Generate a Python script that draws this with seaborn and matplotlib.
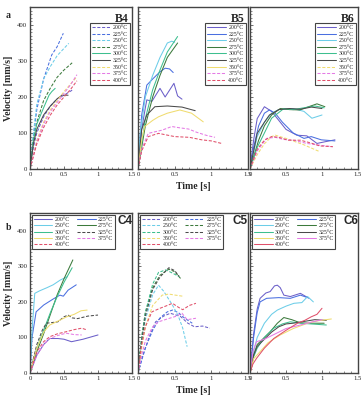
import matplotlib
matplotlib.use("Agg")
import matplotlib.pyplot as plt
import seaborn as sns
import numpy as np
from matplotlib.ticker import MultipleLocator
from matplotlib.lines import Line2D

sns.set_style("ticks")
plt.rcParams['font.family'] = ['Liberation Serif', 'DejaVu Serif']

TEMPS = ["200°C", "225°C", "250°C", "275°C", "300°C", "325°C", "350°C", "375°C", "400°C"]
COLORS = ["#6b5fc9", "#4a6fe0", "#6ccde8", "#3c7a3c", "#3dbf8f", "#4a4a4a", "#f0dc70", "#e57ae5", "#e0506a"]

# each panel: temperature -> (time [s], velocity [mm/s])
B4 = {
    "200°C": ([0, 0.05, 0.1, 0.2, 0.3, 0.4, 0.5, 0.62], [0, 60, 100, 145, 175, 195, 205, 219]),
    "225°C": ([0, 0.05, 0.1, 0.2, 0.32, 0.4, 0.49], [0, 90, 165, 250, 317, 340, 377]),
    "250°C": ([0, 0.05, 0.1, 0.2, 0.3, 0.4, 0.5, 0.57], [0, 100, 180, 250, 285, 315, 335, 349]),
    "275°C": ([0, 0.05, 0.1, 0.2, 0.3, 0.4, 0.5, 0.62], [0, 80, 130, 190, 225, 255, 275, 295]),
    "300°C": ([0, 0.05, 0.1, 0.2, 0.28, 0.32, 0.37], [0, 80, 125, 170, 205, 215, 224]),
    "325°C": ([0, 0.05, 0.1, 0.2, 0.3, 0.4, 0.47, 0.56], [0, 70, 110, 150, 175, 195, 205, 205]),
    "350°C": ([0, 0.1, 0.2, 0.3, 0.4, 0.5, 0.6, 0.69], [0, 80, 130, 165, 190, 215, 237, 256]),
    "375°C": ([0, 0.1, 0.2, 0.3, 0.4, 0.5, 0.6, 0.69], [0, 75, 125, 160, 185, 210, 235, 262]),
    "400°C": ([0, 0.1, 0.2, 0.3, 0.4, 0.5, 0.6, 0.69], [0, 70, 115, 150, 178, 200, 222, 245]),
}
B5 = {
    "200°C": ([0, 0.05, 0.1, 0.12, 0.19, 0.3, 0.37, 0.49, 0.54, 0.6], [0, 110, 170, 192, 188, 224, 200, 238, 203, 194]),
    "225°C": ([0, 0.05, 0.12, 0.2, 0.3, 0.37, 0.43, 0.48], [0, 150, 233, 250, 270, 280, 278, 268]),
    "250°C": ([0, 0.03, 0.1, 0.2, 0.3, 0.4, 0.46, 0.5], [0, 100, 200, 260, 310, 350, 355, 352]),
    "275°C": ([0, 0.05, 0.1, 0.2, 0.3, 0.4, 0.54], [0, 60, 120, 200, 260, 310, 350]),
    "300°C": ([0, 0.05, 0.1, 0.2, 0.3, 0.4, 0.54], [0, 70, 140, 220, 275, 325, 368]),
    "325°C": ([0, 0.05, 0.12, 0.23, 0.4, 0.6, 0.78], [0, 110, 150, 173, 175, 172, 162]),
    "350°C": ([0, 0.05, 0.09, 0.2, 0.28, 0.4, 0.57, 0.73, 0.89], [0, 80, 118, 135, 145, 155, 164, 155, 131]),
    "375°C": ([0, 0.05, 0.14, 0.33, 0.46, 0.55, 0.69, 0.8, 0.94, 1.05], [0, 55, 99, 108, 118, 115, 111, 102, 93, 88]),
    "400°C": ([0, 0.05, 0.14, 0.28, 0.5, 0.7, 0.87, 1.0, 1.14], [0, 50, 90, 99, 90, 88, 81, 78, 71]),
}
B6 = {
    "200°C": ([0, 0.05, 0.1, 0.2, 0.3, 0.4, 0.5, 0.65, 0.79, 0.93, 1.05, 1.18], [0, 80, 140, 173, 160, 135, 110, 94, 92, 71, 76, 81]),
    "225°C": ([0, 0.05, 0.12, 0.2, 0.27, 0.35, 0.45, 0.6, 0.75, 0.85, 0.99, 1.18], [0, 60, 120, 155, 164, 155, 130, 100, 85, 90, 81, 78]),
    "250°C": ([0, 0.1, 0.2, 0.3, 0.4, 0.6, 0.75, 0.86, 1.0], [0, 90, 130, 155, 165, 168, 160, 141, 150]),
    "275°C": ([0, 0.12, 0.2, 0.3, 0.42, 0.55, 0.69, 0.8, 0.93, 1.04], [0, 80, 120, 150, 168, 165, 164, 172, 181, 173]),
    "300°C": ([0, 0.1, 0.2, 0.3, 0.47, 0.6, 0.75, 0.9, 1.03], [0, 60, 100, 141, 168, 165, 170, 175, 170]),
    "325°C": ([0, 0.1, 0.2, 0.27, 0.4, 0.55, 0.7, 0.85, 1.0], [0, 99, 130, 150, 165, 168, 166, 172, 168]),
    "350°C": ([0, 0.1, 0.2, 0.3, 0.35, 0.5, 0.75, 0.97], [0, 40, 70, 90, 94, 85, 67, 48]),
    "375°C": ([0, 0.1, 0.23, 0.35, 0.47, 0.6, 0.79, 0.97, 1.15], [0, 50, 85, 88, 82, 80, 71, 66, 62]),
    "400°C": ([0, 0.1, 0.2, 0.3, 0.4, 0.53, 0.7, 0.85, 0.97, 1.15], [0, 55, 80, 90, 88, 80, 80, 72, 64, 62]),
}
C4 = {
    "200°C": ([0, 0.1, 0.2, 0.29, 0.41, 0.5, 0.61, 0.78, 1.0], [0, 50, 80, 97, 97, 95, 88, 95, 107]),
    "225°C": ([0, 0.03, 0.09, 0.2, 0.34, 0.44, 0.49, 0.56, 0.68], [0, 100, 172, 191, 208, 219, 216, 233, 248]),
    "250°C": ([0, 0.03, 0.07, 0.14, 0.25, 0.34, 0.45, 0.55], [0, 120, 224, 231, 240, 248, 262, 271]),
    "275°C": ([0, 0.1, 0.2, 0.3, 0.4, 0.5, 0.63], [0, 60, 110, 165, 220, 265, 318]),
    "300°C": ([0, 0.1, 0.2, 0.3, 0.4, 0.5, 0.62], [0, 70, 120, 170, 215, 255, 296]),
    "325°C": ([0, 0.1, 0.18, 0.24, 0.33, 0.41, 0.5, 0.56, 0.62, 0.7, 0.85, 1.0], [0, 80, 120, 140, 142, 144, 158, 163, 155, 153, 160, 163]),
    "350°C": ([0, 0.1, 0.2, 0.29, 0.4, 0.54, 0.65, 0.75, 0.84], [0, 70, 115, 135, 145, 158, 165, 175, 177]),
    "375°C": ([0, 0.1, 0.2, 0.29, 0.4, 0.53, 0.65, 0.76], [0, 50, 80, 97, 105, 112, 108, 107]),
    "400°C": ([0, 0.1, 0.2, 0.29, 0.4, 0.53, 0.65, 0.76, 0.84], [0, 60, 88, 102, 110, 116, 122, 126, 121]),
}
C5 = {
    "200°C": ([0, 0.05, 0.1, 0.15, 0.24, 0.35, 0.44, 0.52, 0.58, 0.68, 0.77, 0.88, 0.98], [0, 40, 70, 100, 144, 160, 168, 163, 159, 140, 130, 132, 126]),
    "225°C": ([0, 0.1, 0.2, 0.3, 0.4, 0.47, 0.55, 0.63, 0.74], [0, 70, 120, 155, 172, 177, 170, 155, 140]),
    "250°C": ([0, 0.05, 0.1, 0.2, 0.28, 0.35, 0.47, 0.55, 0.61, 0.67], [0, 80, 150, 220, 247, 230, 191, 160, 126, 74]),
    "275°C": ([0, 0.05, 0.1, 0.2, 0.3, 0.42, 0.5, 0.58], [0, 100, 170, 240, 275, 292, 285, 266]),
    "300°C": ([0, 0.05, 0.1, 0.2, 0.28, 0.38, 0.48, 0.56], [0, 100, 170, 250, 283, 290, 280, 271]),
    "325°C": ([0, 0.05, 0.1, 0.2, 0.3, 0.42, 0.5, 0.56], [0, 90, 160, 235, 270, 296, 288, 272]),
    "350°C": ([0, 0.05, 0.1, 0.2, 0.33, 0.42, 0.51, 0.61], [0, 70, 130, 190, 219, 222, 219, 216]),
    "375°C": ([0, 0.05, 0.1, 0.2, 0.28, 0.4, 0.51, 0.6, 0.67, 0.79], [0, 50, 90, 130, 144, 152, 159, 168, 150, 154]),
    "400°C": ([0, 0.05, 0.1, 0.19, 0.3, 0.4, 0.47, 0.55, 0.61, 0.7, 0.79], [0, 80, 130, 172, 182, 190, 196, 185, 178, 190, 196]),
}
C6 = {
    "200°C": ([0, 0.05, 0.1, 0.14, 0.22, 0.28, 0.34, 0.38, 0.42, 0.47, 0.56, 0.7, 0.82], [0, 110, 180, 210, 225, 229, 245, 247, 240, 219, 215, 224, 210]),
    "225°C": ([0, 0.05, 0.1, 0.14, 0.23, 0.4, 0.56, 0.7, 0.8], [0, 100, 170, 200, 210, 212, 210, 219, 212]),
    "250°C": ([0, 0.05, 0.1, 0.2, 0.3, 0.38, 0.5, 0.61, 0.72, 0.8, 0.88], [0, 60, 100, 140, 165, 177, 188, 196, 198, 215, 200]),
    "275°C": ([0, 0.05, 0.1, 0.2, 0.28, 0.38, 0.47, 0.58, 0.7, 0.85, 1.03], [0, 50, 80, 100, 116, 140, 156, 150, 141, 140, 140]),
    "300°C": ([0, 0.05, 0.1, 0.2, 0.33, 0.45, 0.56, 0.7, 0.85, 1.06], [0, 45, 70, 100, 126, 138, 144, 140, 138, 135]),
    "325°C": ([0, 0.05, 0.1, 0.2, 0.3, 0.4, 0.5, 0.6, 0.75, 0.9, 1.06], [0, 50, 75, 95, 115, 130, 138, 140, 145, 150, 148]),
    "350°C": ([0, 0.05, 0.14, 0.25, 0.42, 0.6, 0.8, 0.95, 1.13], [0, 40, 60, 85, 107, 125, 140, 147, 152]),
    "375°C": ([0, 0.04, 0.09, 0.2, 0.33, 0.5, 0.7, 0.85, 1.0], [0, 60, 88, 95, 108, 125, 135, 143, 150]),
    "400°C": ([0, 0.04, 0.09, 0.2, 0.33, 0.5, 0.66, 0.76, 0.85, 0.93, 1.0], [0, 25, 41, 70, 97, 120, 140, 148, 158, 165, 182]),
}

# which temperatures are drawn dashed in each panel
DASHED = {
    "B4": ["200°C", "225°C", "250°C", "275°C", "350°C", "375°C", "400°C"],
    "B5": ["375°C", "400°C"],
    "B6": ["350°C", "375°C", "400°C"],
    "C4": ["325°C", "375°C", "400°C"],
    "C5": TEMPS,
    "C6": [],
}

W, H = 362, 399
fig = plt.figure(figsize=(W / 100, H / 100), dpi=100)

def pos(x0, x1, y0, y1):
    return [x0 / W, 1 - y1 / H, (x1 - x0) / W, (y1 - y0) / H]

cols = [(30, 132), (138, 248), (250, 358)]
rows = [(7, 169), (213, 373)]
panels = [["B4", "B5", "B6"], ["C4", "C5", "C6"]]
data = {"B4": B4, "B5": B5, "B6": B6, "C4": C4, "C5": C5, "C6": C6}

DASH = (3.0, 1.6)
for r, (y0, y1) in enumerate(rows):
    for c, (x0, x1) in enumerate(cols):
        name = panels[r][c]
        ax = fig.add_axes(pos(x0, x1, y0, y1))
        handles = []
        for temp, col in zip(TEMPS, COLORS):
            t, v = data[name][temp]
            dashed = temp in DASHED[name]
            sns.lineplot(x=t, y=v, ax=ax, color=col, lw=0.75, sort=False,
                         estimator=None, linestyle="--" if dashed else "-",
                         dashes=DASH if dashed else None)
            ln = ax.lines[-1]
            if dashed:
                ln.set_dashes(DASH)
            handles.append(Line2D([], [], color=col, lw=0.75,
                                  linestyle=(0, DASH) if dashed else "-"))
        ax.set_xlim(0, 1.5)
        ax.set_ylim(0, 450)
        ax.set_xticks([0, 0.5, 1, 1.5])
        ax.set_xticklabels(["0", "0.5", "1", "1.5"])
        ax.set_yticks([0, 100, 200, 300, 400])
        ax.xaxis.set_minor_locator(MultipleLocator(0.1))
        ax.yaxis.set_minor_locator(MultipleLocator(10))
        ax.tick_params(which="both", direction="in", labelsize=4.8, pad=2,
                       colors="#333333", labelcolor="#222222")
        ax.tick_params(which="major", length=2.5, width=0.5)
        ax.tick_params(which="minor", length=1.5, width=0.4)
        if c > 0:
            ax.set_yticklabels([])
        for s in ax.spines.values():
            s.set_color("#444444")
            s.set_linewidth(1.0)
        ax.set_xlabel("")
        ax.set_ylabel("")
        if r == 0:
            ax.text(0.97, 0.965, name, transform=ax.transAxes, ha="right", va="top",
                    fontsize=8.5, fontweight="bold")
            leg = ax.legend(handles, TEMPS, loc="upper right", bbox_to_anchor=(0.98, 0.9),
                            fontsize=4.2, frameon=True, fancybox=False, handlelength=3.2,
                            handletextpad=0.4, labelspacing=0.25, borderpad=0.35,
                            borderaxespad=0)
        else:
            ax.text(1.0, 0.985, name, transform=ax.transAxes, ha="right", va="top",
                    fontsize=8.5, fontweight="bold", family=["Liberation Sans", "DejaVu Sans"])
            order = [0, 2, 4, 6, 8, 1, 3, 5, 7]
            leg = ax.legend([handles[i] for i in order], [TEMPS[i] for i in order],
                            loc="upper left", bbox_to_anchor=(0.02, 0.985), ncol=2,
                            fontsize=4.2, frameon=True, fancybox=False, handlelength=3.2,
                            handletextpad=0.4, labelspacing=0.2, borderpad=0.3,
                            columnspacing=1.2, borderaxespad=0)
        fr = leg.get_frame()
        fr.set_edgecolor("#444444")
        fr.set_linewidth(0.8)
        fr.set_alpha(1)
        if c == 0:
            ax.set_ylabel("Velocity [mm/s]", fontsize=7, fontweight="bold", labelpad=3)
        if c == 1:
            ax.set_xlabel("Time [s]", fontsize=7, fontweight="bold", labelpad=4)

fig.text(6 / W, 1 - 15 / H, "a", fontsize=7, fontweight="bold", va="center")
fig.text(6 / W, 1 - 228 / H, "b", fontsize=7, fontweight="bold", va="center")

fig.savefig("out.png", dpi=100)
